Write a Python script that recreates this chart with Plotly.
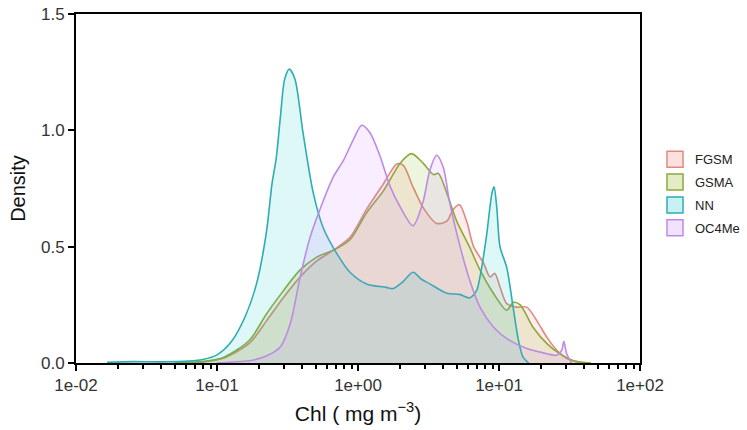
import numpy as np
import plotly.graph_objects as go

# ---- data (x as log10 of Chl, y = density) ----
series_names = ["FGSM", "GSMA", "NN", "OC4Me"]

fgsm_log10_chl = [-1.3, -1.1, -0.95, -0.77, -0.65, -0.53, -0.41, -0.29, -0.175, -0.057, 0.06, 0.18, 0.275,
                  0.32, 0.39, 0.46, 0.558, 0.63, 0.675, 0.72, 0.77, 0.82, 0.89, 0.936, 0.97, 1.007, 1.055,
                  1.125, 1.197, 1.27, 1.34, 1.41, 1.48, 1.55, 1.65]
fgsm_density = [0.0, 0.005, 0.022, 0.085, 0.18, 0.28, 0.37, 0.44, 0.485, 0.54, 0.66, 0.77, 0.855,
                0.85, 0.757, 0.67, 0.60, 0.61, 0.66, 0.68, 0.61, 0.50, 0.43, 0.37, 0.385, 0.327, 0.255,
                0.24, 0.24, 0.18, 0.11, 0.055, 0.02, 0.004, 0.0]

gsma_log10_chl = [-1.3, -1.1, -0.95, -0.77, -0.65, -0.53, -0.41, -0.29, -0.175, -0.057, 0.06, 0.18, 0.30,
                  0.38, 0.46, 0.535, 0.57, 0.63, 0.70, 0.79, 0.865, 0.96, 1.055, 1.10, 1.15, 1.24, 1.34,
                  1.43, 1.53, 1.65]
gsma_density = [0.0, 0.006, 0.025, 0.098, 0.21, 0.31, 0.40, 0.456, 0.485, 0.53, 0.645, 0.74, 0.86,
                0.90, 0.86, 0.81, 0.815, 0.73, 0.61, 0.50, 0.40, 0.30, 0.227, 0.26, 0.25, 0.155, 0.083,
                0.04, 0.01, 0.0]

nn_log10_chl = [-1.78, -1.6, -1.4, -1.2, -1.1, -1.0, -0.9, -0.8, -0.72, -0.65, -0.61, -0.58, -0.55, -0.52,
                -0.487, -0.447, -0.39, -0.317, -0.246, -0.15, -0.057, 0.06, 0.20, 0.25, 0.32, 0.39, 0.45,
                0.51, 0.63, 0.72, 0.79, 0.84, 0.865, 0.91, 0.95, 0.965, 0.984, 1.007, 1.055, 1.10, 1.137,
                1.17, 1.21]
nn_density = [0.003, 0.006, 0.005, 0.008, 0.015, 0.035, 0.09, 0.2, 0.34, 0.56, 0.77, 0.88, 1.06, 1.22,
              1.263, 1.22, 0.99, 0.73, 0.58, 0.47, 0.39, 0.34, 0.325, 0.32, 0.35, 0.39, 0.36,
              0.34, 0.30, 0.295, 0.28, 0.31, 0.37, 0.54, 0.73, 0.757, 0.67, 0.50, 0.41, 0.24, 0.10,
              0.026, 0.0]

oc4me_log10_chl = [-1.0, -0.89, -0.75, -0.65, -0.55, -0.48, -0.41, -0.34, -0.27, -0.175, -0.104, -0.033,
                   0.026, 0.085, 0.156, 0.227, 0.30, 0.39, 0.46, 0.51, 0.558, 0.605, 0.65, 0.72, 0.79,
                   0.865, 0.96, 1.055, 1.197, 1.34, 1.41, 1.445, 1.46, 1.48, 1.515]
oc4me_density = [0.0, 0.004, 0.012, 0.03, 0.07, 0.17, 0.37, 0.54, 0.66, 0.80, 0.87, 0.96,
                 1.022, 0.99, 0.89, 0.76, 0.67, 0.59, 0.69, 0.83, 0.893, 0.84, 0.69, 0.51, 0.36,
                 0.24, 0.155, 0.105, 0.062, 0.04, 0.033, 0.055, 0.093, 0.04, 0.0]

x_tick_values = [0.01, 0.1, 1, 10, 100]
x_tick_labels = ["1e-02", "1e-01", "1e+00", "1e+01", "1e+02"]
x_minor_values = [m * d for d in [0.01, 0.1, 1, 10] for m in range(2, 10)]
y_tick_values = [0.0, 0.5, 1.0, 1.5]
y_tick_labels = ["0.0", "0.5", "1.0", "1.5"]

# ---- styles ----
line_colors = ["#DE8A80", "#8FA83A", "#2EADB0", "#BD8BE3"]
fill_colors = ["rgba(248,118,109,0.13)", "rgba(124,174,0,0.13)",
               "rgba(0,191,196,0.13)", "rgba(199,124,255,0.13)"]
legend_fill = ["rgba(248,118,109,0.22)", "rgba(124,174,0,0.22)",
               "rgba(0,191,196,0.22)", "rgba(199,124,255,0.22)"]

xs = [fgsm_log10_chl, gsma_log10_chl, nn_log10_chl, oc4me_log10_chl]
ys = [fgsm_density, gsma_density, nn_density, oc4me_density]

fig = go.Figure()
for name, lx, y, lc, fc in zip(series_names, xs, ys, line_colors, fill_colors):
    fig.add_trace(go.Scatter(
        x=np.power(10.0, np.array(lx)), y=y, name=name, mode="lines",
        line=dict(color=lc, width=1.6, shape="spline", smoothing=0.8),
        fill="tozeroy", fillcolor=fc, showlegend=False,
    ))
# legend keys: bordered filled boxes
for name, lc, lf in zip(series_names, line_colors, legend_fill):
    fig.add_trace(go.Scatter(
        x=[None], y=[None], name=name, mode="markers", legendgroup=name,
        marker=dict(symbol="square", size=16, color=lf, line=dict(color=lc, width=1.5)),
        showlegend=True,
    ))

font_family = "Arial, Liberation Sans, sans-serif"
plot_w = 747 - 76
fig.update_layout(
    width=747, height=430,
    margin=dict(l=76, r=0, t=14, b=67, autoexpand=False),
    paper_bgcolor="white", plot_bgcolor="white",
    font=dict(family=font_family, color="#222222"),
    showlegend=True,
    legend=dict(x=(655 - 76) / plot_w, y=0.627, xanchor="left", yanchor="top",
                font=dict(size=13, color="#222222"), bgcolor="rgba(0,0,0,0)",
                traceorder="grouped", tracegroupgap=3),
)
fig.update_xaxes(
    type="log", range=[-2, 2], domain=[0, (640 - 76) / plot_w], automargin=False,
    tickmode="array", tickvals=x_tick_values, ticktext=x_tick_labels,
    ticks="outside", ticklen=6, tickwidth=2, tickcolor="black",
    tickfont=dict(size=17, color="#333333"),
    minor=dict(tickmode="array", tickvals=x_minor_values, ticks="outside",
               ticklen=4, tickwidth=2, tickcolor="black", showgrid=False),
    showline=True, linecolor="black", linewidth=2, mirror=True,
    showgrid=False, zeroline=False,
    title=dict(text="Chl ( mg m<sup>−3</sup>)", font=dict(size=21, color="#111111"), standoff=12),
)
fig.update_yaxes(
    range=[0, 1.5], automargin=False,
    tickmode="array", tickvals=y_tick_values, ticktext=y_tick_labels,
    ticks="outside", ticklen=6, tickwidth=2, tickcolor="black",
    tickfont=dict(size=17, color="#333333"),
    showline=True, linecolor="black", linewidth=2, mirror=True,
    showgrid=False, zeroline=False,
    title=dict(text="Density", font=dict(size=20, color="#111111"), standoff=10),
)

fig.write_html("out.html")
